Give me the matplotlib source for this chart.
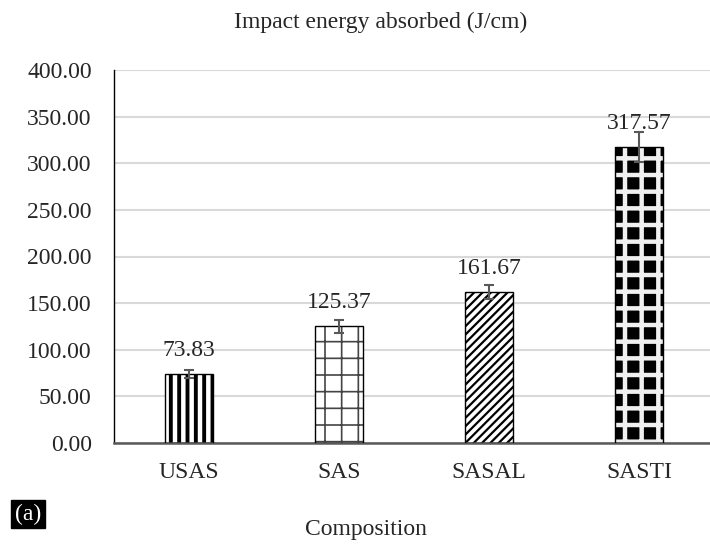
import matplotlib
matplotlib.use("Agg")
import matplotlib.pyplot as plt

# data
categories = ["USAS", "SAS", "SASAL", "SASTI"]
energy = [73.83, 125.37, 161.67, 317.57]
errors = [4.0, 7.0, 7.5, 16.0]
yticks = [0, 50, 100, 150, 200, 250, 300, 350, 400]

plt.rcParams["font.family"] = ["Liberation Serif", "DejaVu Serif"]
txt = "#262626"
fs = 17

fig = plt.figure(figsize=(7.1, 5.45), dpi=100)
ax = fig.add_axes([114 / 710, 102 / 545, 600 / 710, 373 / 545])

x = list(range(len(categories)))
w = 0.32

# hatch styles per bar: (face, hatch colour, hatch, hatch linewidth)
styles = [
    ("white", "black", "||", 2.8),
    ("white", "#444444", "+", 1.2),
    ("white", "black", "////", 1.6),
    ("black", "#f0f0f0", "+", 3.2),
]

for i, (fc, hc, h, lw) in enumerate(styles):
    with plt.rc_context({"hatch.linewidth": lw}):
        ax.bar(x[i], energy[i], width=w, color=fc, edgecolor=hc, hatch=h,
               linewidth=0, zorder=2)
    ax.bar(x[i], energy[i], width=w, fill=False, edgecolor="black",
           linewidth=1.0, zorder=3)

ax.errorbar(x, energy, yerr=errors, fmt="none", ecolor="#595959",
            elinewidth=1.5, capsize=3.5, capthick=1.5, zorder=4)

for xi, v in zip(x, energy):
    ax.annotate(f"{v:.2f}", (xi, v), xytext=(0, 17), textcoords="offset points",
                ha="center", va="center", fontsize=fs, color=txt, zorder=5)

ax.set_xlim(-0.5, 3.5)
ax.set_ylim(0, 400)
ax.set_yticks(yticks)
ax.set_yticklabels([f"{t:.2f}" for t in yticks])
ax.set_xticks(x)
ax.set_xticklabels(categories)
ax.tick_params(axis="both", length=0, labelsize=fs, labelcolor=txt)
ax.tick_params(axis="y", pad=16)
ax.tick_params(axis="x", pad=14)
ax.yaxis.grid(True, color="#d9d9d9", linewidth=1.5, zorder=0)
ax.set_axisbelow(True)

for s in ["top", "right"]:
    ax.spines[s].set_visible(False)
ax.spines["left"].set_color("black")
ax.spines["left"].set_linewidth(1.0)
ax.spines["bottom"].set_color("#595959")
ax.spines["bottom"].set_linewidth(1.8)

fig.text(381 / 710, 1 - 22 / 545, "Impact energy absorbed (J/cm)",
         ha="center", va="center", fontsize=fs, color=txt)
fig.text(366 / 710, 1 - 530 / 545, "Composition",
         ha="center", va="center", fontsize=fs, color=txt)
fig.text(28 / 710, 1 - 514 / 545, "(a)", ha="center", va="center",
         fontsize=fs, color="white",
         bbox=dict(boxstyle="square,pad=0.15", facecolor="black",
                   edgecolor="black"))

fig.savefig("out.png", dpi=100)
